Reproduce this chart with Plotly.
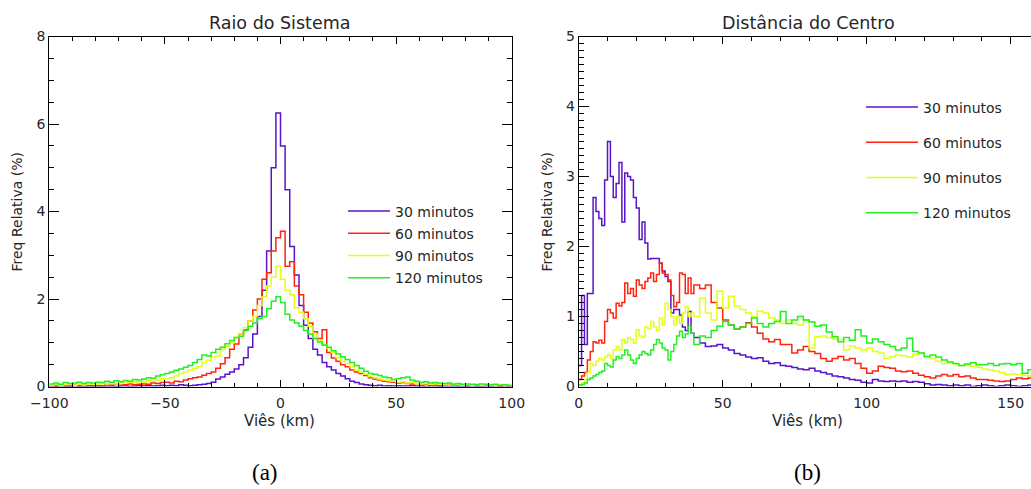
import plotly.graph_objects as go

# ---------------- data ----------------
series_names = ["30 minutos", "60 minutos", "90 minutos", "120 minutos"]
series_colors = ["#5a14c8", "#ff2410", "#e4ff14", "#22f022"]

# Panel (a): Raio do Sistema, 2 km bins, left edges -100 .. 98
raio_bin_left = [-100 + 2 * i for i in range(100)]
raio_30 = [0, 0, 0.01, 0, 0, 0.01, 0, 0, 0.01, 0,
           0, 0.01, 0, 0.01, 0, 0.01, 0.01, 0, 0.01, 0.02,
           0.01, 0.02, 0.01, 0.02, 0.03, 0.02, 0.03, 0.02, 0.04, 0.03,
           0.02, 0.03, 0.04, 0.05, 0.07, 0.1, 0.17, 0.22, 0.28, 0.33,
           0.4, 0.5, 0.66, 0.9, 1.2, 1.6, 2.2, 3.1, 5.0, 6.25,
           5.5, 4.5, 3.2, 2.55, 1.85, 1.4, 1.1, 0.85, 0.72, 0.55,
           0.45, 0.38, 0.3, 0.24, 0.18, 0.12, 0.09, 0.06, 0.04, 0.03,
           0.02, 0.03, 0.01, 0.02, 0.01, 0.02, 0.01, 0.01, 0.02, 0.01,
           0.01, 0, 0.01, 0.01, 0, 0.01, 0, 0.01, 0, 0,
           0, 0.01, 0, 0, 0.01, 0, 0, 0, 0.01, 0]
raio_60 = [0.02, 0.01, 0.03, 0.02, 0.01, 0.03, 0.02, 0.04, 0.02, 0.03,
           0.03, 0.02, 0.04, 0.03, 0.05, 0.03, 0.04, 0.06, 0.04, 0.05,
           0.06, 0.05, 0.08, 0.07, 0.09, 0.1, 0.08, 0.12, 0.11, 0.15,
           0.18, 0.2, 0.22, 0.26, 0.3, 0.33, 0.42, 0.52, 0.66, 0.85,
           0.97, 1.2, 1.3, 1.5, 1.75, 2.0, 2.45, 2.6, 3.1, 3.4,
           3.55, 2.75, 2.85, 2.3, 2.1, 1.7, 1.45, 1.25, 1.1, 1.3,
           0.78, 0.65, 0.58, 0.5, 0.45, 0.38, 0.33, 0.3, 0.25, 0.2,
           0.17, 0.15, 0.12, 0.11, 0.1, 0.08, 0.09, 0.07, 0.06, 0.07,
           0.05, 0.06, 0.04, 0.05, 0.03, 0.04, 0.05, 0.03, 0.04, 0.03,
           0.02, 0.03, 0.04, 0.02, 0.03, 0.02, 0.03, 0.02, 0.03, 0.02]
raio_90 = [0.03, 0.05, 0.02, 0.04, 0.06, 0.03, 0.05, 0.04, 0.06, 0.05,
           0.05, 0.07, 0.06, 0.08, 0.06, 0.09, 0.08, 0.1, 0.09, 0.11,
           0.1, 0.13, 0.12, 0.15, 0.18, 0.17, 0.2, 0.24, 0.3, 0.33,
           0.38, 0.42, 0.45, 0.55, 0.6, 0.68, 0.7, 0.85, 0.92, 1.0,
           1.12, 1.2, 1.35, 1.5, 1.6, 1.85, 2.05, 2.3, 2.5, 2.75,
           2.45, 2.2, 2.1, 1.8, 1.7, 1.55, 1.38, 1.2, 1.05, 0.95,
           0.88, 0.78, 0.66, 0.58, 0.52, 0.45, 0.38, 0.33, 0.28, 0.23,
           0.2, 0.17, 0.15, 0.13, 0.12, 0.1, 0.11, 0.08, 0.09, 0.07,
           0.06, 0.07, 0.05, 0.06, 0.05, 0.04, 0.06, 0.04, 0.05, 0.03,
           0.04, 0.03, 0.05, 0.03, 0.04, 0.03, 0.02, 0.04, 0.03, 0.02]
raio_120 = [0.06, 0.08, 0.05, 0.09, 0.07, 0.08, 0.1, 0.07, 0.09, 0.08,
            0.1, 0.09, 0.12, 0.1, 0.13, 0.11, 0.14, 0.12, 0.16, 0.15,
            0.17, 0.2, 0.19, 0.24, 0.27, 0.3, 0.33, 0.37, 0.4, 0.44,
            0.48, 0.55, 0.62, 0.72, 0.7, 0.78, 0.85, 0.9, 0.98, 1.05,
            1.12, 1.15, 1.28, 1.38, 1.45, 1.55, 1.6, 1.78, 1.95, 2.05,
            1.92, 1.65, 1.52, 1.45, 1.38, 1.28, 1.2, 1.1, 1.02, 0.95,
            0.9, 0.82, 0.75, 0.68, 0.62, 0.55, 0.48, 0.42, 0.35, 0.3,
            0.28, 0.25, 0.22, 0.2, 0.16, 0.18, 0.2, 0.22, 0.15, 0.12,
            0.1, 0.11, 0.08, 0.09, 0.08, 0.07, 0.08, 0.06, 0.07, 0.05,
            0.06, 0.05, 0.04, 0.06, 0.05, 0.04, 0.05, 0.03, 0.04, 0.03]

# Panel (b): Distancia do Centro, 1 km bins 0..39 then 2 km bins 40..158
dist_bin_left = list(range(0, 40)) + list(range(40, 160, 2))
dist_30 = [0.3, 1.3, 0.6, 1.33, 1.33, 2.7, 2.5, 2.4, 2.3, 2.95,
           3.5, 3.0, 2.7, 2.9, 3.2, 2.35, 3.05, 3.0, 2.95, 2.7,
           2.55, 2.1, 2.35, 2.05, 1.82, 1.83, 1.83, 1.83, 1.76, 1.65,
           1.57, 1.5, 1.05, 1.1, 1.1, 1.02, 0.85, 0.8, 1.07, 0.76,
           0.7, 0.62, 0.57, 0.58, 0.6, 0.55, 0.52, 0.47, 0.45, 0.42,
           0.4, 0.41, 0.36, 0.33, 0.34, 0.3, 0.29, 0.27, 0.25, 0.24,
           0.26, 0.22, 0.2, 0.18, 0.15, 0.14, 0.12, 0.1, 0.09, 0.06,
           0.05, 0.1, 0.08, 0.07, 0.08, 0.07, 0.08, 0.06, 0.07, 0.06,
           0.04, 0.02, 0.03, 0.02, 0.01, 0.02, 0.01, 0.02, 0.0, 0.01,
           0.02, 0.01, 0.0, 0.01, 0.02, 0.01, 0.0, 0.01, 0.02, 0.01]
dist_60 = [0.1, 0.15, 0.2, 0.38, 0.5, 0.64, 0.62, 0.66, 0.62, 0.93,
           1.1, 1.05, 0.98, 1.19, 1.15, 1.2, 1.48, 1.33, 1.4, 1.29,
           1.52, 1.45, 1.4, 1.5, 1.55, 1.62, 1.5, 1.6, 1.76, 1.62,
           1.6, 1.52, 1.3, 1.14, 1.2, 1.62, 1.6, 1.33, 1.55, 1.33,
           1.45, 1.4, 1.45, 1.2, 1.12, 0.95, 0.88, 0.82, 0.85, 0.91,
           0.85, 0.76, 0.68, 0.64, 0.67, 0.6, 0.6, 0.48, 0.52, 0.57,
           0.5, 0.47, 0.4, 0.36, 0.4, 0.43, 0.38, 0.4, 0.33, 0.26,
           0.19, 0.22, 0.29, 0.27, 0.26, 0.22, 0.21, 0.22, 0.19, 0.16,
           0.14, 0.12, 0.15, 0.17, 0.15, 0.17, 0.14, 0.15, 0.12, 0.1,
           0.1, 0.09, 0.08, 0.07, 0.08, 0.1, 0.12, 0.11, 0.12, 0.12]
dist_90 = [0.03, 0.05, 0.1, 0.2, 0.33, 0.3, 0.36, 0.4, 0.38, 0.42,
           0.45, 0.4, 0.52, 0.57, 0.52, 0.67, 0.62, 0.7, 0.67, 0.62,
           0.81, 0.72, 0.7, 0.85, 0.82, 0.93, 0.85, 0.8, 0.98, 0.88,
           1.19, 1.1, 1.0, 0.88, 1.0, 0.9, 1.05, 1.14, 1.0, 1.05,
           1.0, 1.26, 1.05, 0.95, 1.36, 1.12, 1.29, 1.15, 1.1, 1.05,
           1.0, 1.08, 1.05, 0.98, 0.95, 0.9, 0.95, 0.9, 0.88, 0.95,
           0.55, 0.71, 0.72, 0.7, 0.68, 0.67, 0.52, 0.58, 0.55, 0.52,
           0.55, 0.5, 0.48, 0.4, 0.43, 0.45, 0.44, 0.42, 0.46, 0.48,
           0.42, 0.4, 0.36, 0.33, 0.34, 0.32, 0.3, 0.31, 0.29, 0.27,
           0.25, 0.24, 0.22, 0.2, 0.17, 0.18, 0.17, 0.16, 0.15, 0.15]
dist_120 = [0.02, 0.03, 0.05, 0.1, 0.12, 0.15, 0.17, 0.2, 0.22, 0.33,
            0.3, 0.28, 0.38, 0.43, 0.4, 0.45, 0.52, 0.45, 0.38, 0.33,
            0.4, 0.45, 0.5, 0.47, 0.45, 0.52, 0.6, 0.67, 0.62, 0.55,
            0.52, 0.38, 0.5, 0.6, 0.72, 0.79, 0.7, 0.75, 0.86, 0.76,
            0.6, 0.72, 0.7, 0.8, 0.86, 0.93, 0.88, 0.82, 0.85, 0.9,
            0.98, 0.9, 0.85, 0.9, 0.93, 1.07, 0.9, 0.95, 1.0, 0.95,
            0.92, 0.86, 0.88, 0.78, 0.71, 0.64, 0.7, 0.66, 0.81, 0.72,
            0.62, 0.68, 0.64, 0.6, 0.57, 0.52, 0.55, 0.69, 0.5, 0.48,
            0.43, 0.45, 0.42, 0.38, 0.35, 0.33, 0.3, 0.32, 0.34, 0.31,
            0.31, 0.33, 0.3, 0.32, 0.33, 0.31, 0.33, 0.19, 0.24, 0.24]

raio_series = [raio_30, raio_60, raio_90, raio_120]
dist_series = [dist_30, dist_60, dist_90, dist_120]

panel_titles = ["Raio do Sistema", "Distância do Centro"]
x_title = "Viês (km)"
y_title = "Freq Relativa (%)"
panel_letters = ["(a)", "(b)"]

# ---------------- figure ----------------
W, H = 1031, 489
FONT = "DejaVu Sans"
TXT = "#262626"


def px_x(p):
    return p / W


def px_y(p):
    return 1 - p / H


def steps(left_edges, vals, last_width):
    xs = list(left_edges) + [left_edges[-1] + last_width]
    ys = list(vals) + [vals[-1]]
    return xs, ys


fig = go.Figure()
for name, col, vals in zip(series_names, series_colors, raio_series):
    xs, ys = steps(raio_bin_left, vals, 2)
    fig.add_trace(go.Scatter(x=xs, y=ys, mode="lines", name=name,
                             line=dict(color=col, width=1.5, shape="hv"),
                             xaxis="x", yaxis="y", legend="legend",
                             legendgroup="a" + name))
for name, col, vals in zip(series_names, series_colors, dist_series):
    xs, ys = steps(dist_bin_left, vals, 2)
    fig.add_trace(go.Scatter(x=xs, y=ys, mode="lines", name=name,
                             line=dict(color=col, width=1.5, shape="hv"),
                             xaxis="x2", yaxis="y2", legend="legend2",
                             legendgroup="b" + name))

plot_top, plot_bot = 36.5, 386.5
ydom = [px_y(plot_bot), px_y(plot_top)]

axis_common = dict(showline=True, linecolor="black", linewidth=1,
                   ticks="inside", tickcolor="black", showgrid=False,
                   zeroline=False, automargin=False,
                   tickfont=dict(family=FONT, size=14, color=TXT))

fig.update_layout(
    width=W, height=H,
    margin=dict(l=0, r=0, t=0, b=0, autoexpand=False),
    paper_bgcolor="white", plot_bgcolor="white",
    showlegend=True,
    xaxis=dict(domain=[px_x(49.3), px_x(511.7)], range=[-100, 100],
               tickvals=[-100, -50, 0, 50, 100], ticklen=7, mirror="ticks",
               ticklabelstandoff=4,
               minor=dict(dtick=10, ticks="inside", ticklen=4, tickcolor="black"),
               anchor="y", **axis_common),
    yaxis=dict(domain=ydom, range=[0, 8], tickvals=[0, 2, 4, 6, 8],
               ticklen=10, mirror="ticks",
               minor=dict(dtick=0.5, ticks="inside", ticklen=5, tickcolor="black"),
               anchor="x", **axis_common),
    xaxis2=dict(domain=[px_x(578.7), 1.0], range=[0, (W - 578.7) / 2.88],
                tickvals=[0, 50, 100, 150], ticklen=7, mirror="ticks",
                ticklabelstandoff=4,
                minor=dict(dtick=10, ticks="inside", ticklen=4, tickcolor="black"),
                anchor="y2", **axis_common),
    yaxis2=dict(domain=ydom, range=[0, 5], tickvals=[0, 1, 2, 3, 4, 5],
                ticklen=10, mirror=False,
                minor=dict(dtick=0.1, ticks="inside", ticklen=5, tickcolor="black"),
                anchor="x2", **axis_common),
    legend=dict(x=px_x(343), y=px_y(195.5), xanchor="left", yanchor="top",
                bgcolor="rgba(0,0,0,0)", tracegroupgap=1,
                font=dict(family=FONT, size=14, color=TXT), itemwidth=42),
    legend2=dict(x=px_x(861), y=px_y(91.5), xanchor="left", yanchor="top",
                 bgcolor="rgba(0,0,0,0)", tracegroupgap=14,
                 font=dict(family=FONT, size=14, color=TXT), itemwidth=52),
)

ann = []
for title, cx in zip(panel_titles, [279.5, 808]):
    ann.append(dict(text=title, x=px_x(cx), y=px_y(23), xref="paper", yref="paper",
                    showarrow=False, xanchor="center", yanchor="middle",
                    font=dict(family=FONT, size=17.5, color=TXT)))
for cx in [279, 807.5]:
    ann.append(dict(text=x_title, x=px_x(cx), y=px_y(421), xref="paper", yref="paper",
                    showarrow=False, xanchor="center", yanchor="middle",
                    font=dict(family=FONT, size=15, color=TXT)))
for cx in [17, 547]:
    ann.append(dict(text=y_title, x=px_x(cx), y=px_y(211.5), xref="paper", yref="paper",
                    showarrow=False, xanchor="center", yanchor="middle", textangle=-90,
                    font=dict(family=FONT, size=14, color=TXT)))
for letter, cx in zip(panel_letters, [265, 807.5]):
    ann.append(dict(text=letter, x=px_x(cx), y=px_y(472), xref="paper", yref="paper",
                    showarrow=False, xanchor="center", yanchor="middle",
                    font=dict(family="Liberation Serif", size=23, color="black")))
fig.update_layout(annotations=ann)

fig.write_html("out.html",
               config={"displayModeBar": False},
               post_script="document.body.style.margin='0';"
                           "document.body.style.overflow='hidden';")
